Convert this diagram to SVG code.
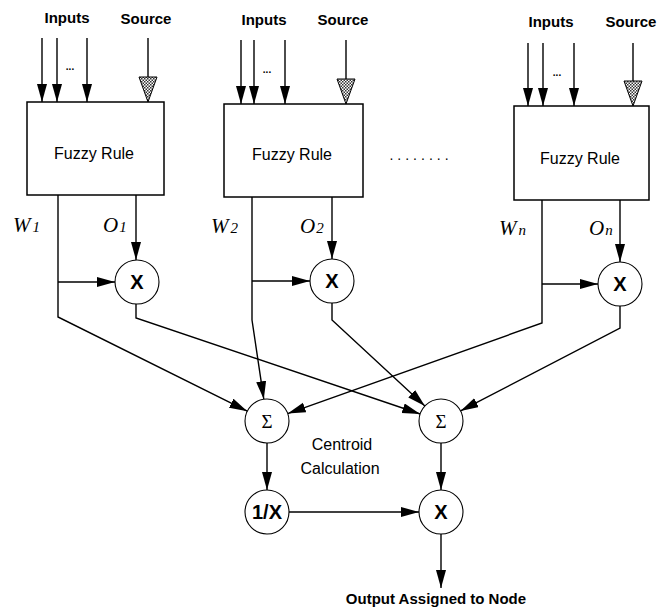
<svg xmlns="http://www.w3.org/2000/svg" width="670" height="615" viewBox="0 0 670 615">
<style>
.box{fill:#fff;stroke:#000;stroke-width:1.5}
.circ{fill:#fff;stroke:#000;stroke-width:1.1}
.ln{fill:none;stroke:#000;stroke-width:1.4}
.arr{marker-end:url(#ah)}
.lbl{font-family:"Liberation Sans",Arial,sans-serif;font-weight:bold;font-size:15px;text-anchor:middle;fill:#000}
.fr{font-family:"Liberation Sans",Arial,sans-serif;font-size:16px;text-anchor:middle;fill:#000}
.op{font-family:"Liberation Sans",Arial,sans-serif;font-weight:bold;font-size:20px;text-anchor:middle;fill:#000}
.sig{font-family:"Liberation Serif","Times New Roman",serif;font-size:19px;text-anchor:middle;fill:#000}
.wo{font-family:"Liberation Serif","Times New Roman",serif;font-style:italic;font-size:21px;fill:#000}
.sub{font-size:15px}
.dots{font-family:"Liberation Sans",Arial,sans-serif;font-weight:bold;font-size:10px;text-anchor:middle;fill:#000}
.cc{font-family:"Liberation Sans",Arial,sans-serif;font-size:16px;text-anchor:middle;fill:#000}
.src{fill:url(#hatch);stroke:#000;stroke-width:1}
</style>
<defs>
<marker id="ah" markerUnits="userSpaceOnUse" markerWidth="19" markerHeight="11" refX="18" refY="5" orient="auto">
<path d="M0,0 L18,5 L0,10 z" fill="#000"/>
</marker>
<pattern id="hatch" patternUnits="userSpaceOnUse" width="3" height="3">
<rect width="3" height="3" fill="#fff"/>
<rect width="1.5" height="1.5" fill="#333"/>
<rect x="1.5" y="1.5" width="1.5" height="1.5" fill="#333"/>
</pattern>
</defs>
<rect width="670" height="615" fill="#fff"/>

<g id="connectors">
<!-- inputs rule 1 -->
<path class="ln arr" d="M42,38 V102"/>
<path class="ln arr" d="M57,38 V102"/>
<path class="ln arr" d="M87,38 V102"/>
<path class="ln" d="M148,38 V77"/>
<polygon class="src" points="139,77 157,77 148,102"/>
<!-- inputs rule 2 -->
<path class="ln arr" d="M241,40 V104"/>
<path class="ln arr" d="M254,40 V104"/>
<path class="ln arr" d="M285,40 V104"/>
<path class="ln" d="M346,40 V79"/>
<polygon class="src" points="337,79 355,79 346,104"/>
<!-- inputs rule 3 -->
<path class="ln arr" d="M528,43 V106"/>
<path class="ln arr" d="M543,43 V106"/>
<path class="ln arr" d="M574,43 V106"/>
<path class="ln" d="M633,43 V81"/>
<polygon class="src" points="624,81 642,81 633,106"/>

<!-- rule 1 outputs -->
<path class="ln arr" d="M136,195 V260"/>
<path class="ln arr" d="M58,282 H115"/>
<path class="ln arr" d="M58,195 V317 L247.3,411.2"/>
<path class="ln arr" d="M136,304 V318 L420.2,414"/>
<!-- rule 2 outputs -->
<path class="ln arr" d="M332,197 V259"/>
<path class="ln arr" d="M252,281 H310"/>
<path class="ln arr" d="M252,197 V320 L263.8,399.2"/>
<path class="ln arr" d="M332,303 V320 L424.9,406"/>
<!-- rule 3 outputs -->
<path class="ln arr" d="M620,200 V262"/>
<path class="ln arr" d="M542,284 H598"/>
<path class="ln arr" d="M542,200 V323 L287.7,413.6"/>
<path class="ln arr" d="M620,306 V328 L460.5,410.9"/>
<!-- centroid -->
<path class="ln arr" d="M267,443 V490"/>
<path class="ln arr" d="M441,443 V490"/>
<path class="ln arr" d="M289,512 H419"/>
<path class="ln arr" d="M441,534 V588"/>
</g>

<g id="input-labels">
<text class="lbl" x="67" y="23">Inputs</text>
<text class="lbl" x="146" y="24">Source</text>
<text class="dots" x="70" y="70">...</text>
<text class="lbl" x="264" y="25">Inputs</text>
<text class="lbl" x="343" y="25">Source</text>
<text class="dots" x="267" y="73">...</text>
<text class="lbl" x="551" y="27">Inputs</text>
<text class="lbl" x="631" y="27">Source</text>
<text class="dots" x="557" y="76">...</text>
</g>

<g id="rule1">
<rect class="box" x="27" y="102" width="137" height="93"/>
<text class="fr" x="94" y="159">Fuzzy Rule</text>
</g>
<g id="rule2">
<rect class="box" x="224" y="104" width="139" height="93"/>
<text class="fr" x="292" y="160">Fuzzy Rule</text>
</g>
<g id="ellipsis">
<text x="421" y="160" style="font-family:'Liberation Sans',Arial,sans-serif;font-size:14px;letter-spacing:4px;text-anchor:middle">........</text>
</g>
<g id="rule3">
<rect class="box" x="514" y="106" width="135" height="94"/>
<text class="fr" x="580" y="164">Fuzzy Rule</text>
</g>

<g id="wo-labels">
<text class="wo" x="13" y="232">W<tspan class="sub" dx="2">1</tspan></text>
<text class="wo" x="103" y="232">O<tspan class="sub" dx="1">1</tspan></text>
<text class="wo" x="211" y="233">W<tspan class="sub" dx="2">2</tspan></text>
<text class="wo" x="300" y="233">O<tspan class="sub" dx="1">2</tspan></text>
<text class="wo" x="499" y="235">W<tspan class="sub" dx="2">n</tspan></text>
<text class="wo" x="589" y="235">O<tspan class="sub" dx="1">n</tspan></text>
</g>

<g id="mul1">
<circle class="circ" cx="137" cy="282" r="22"/>
<text class="op" x="137" y="289">X</text>
</g>
<g id="mul2">
<circle class="circ" cx="332" cy="281" r="22"/>
<text class="op" x="332" y="288">X</text>
</g>
<g id="mul3">
<circle class="circ" cx="620" cy="284" r="22"/>
<text class="op" x="620" y="291">X</text>
</g>
<g id="sum1">
<circle class="circ" cx="267" cy="421" r="22"/>
<text class="sig" x="267" y="428">Σ</text>
</g>
<g id="sum2">
<circle class="circ" cx="441" cy="421" r="22"/>
<text class="sig" x="441" y="428">Σ</text>
</g>
<g id="centroid-label">
<text class="cc" x="342" y="450">Centroid</text>
<text class="cc" x="340" y="474">Calculation</text>
</g>
<g id="inverse">
<circle class="circ" cx="267" cy="512" r="22"/>
<text class="op" x="267" y="519">1/X</text>
</g>
<g id="mulOut">
<circle class="circ" cx="441" cy="512" r="22"/>
<text class="op" x="441" y="519">X</text>
</g>
<g id="output">
<text class="lbl" x="436" y="604">Output Assigned to Node</text>
</g>
</svg>
